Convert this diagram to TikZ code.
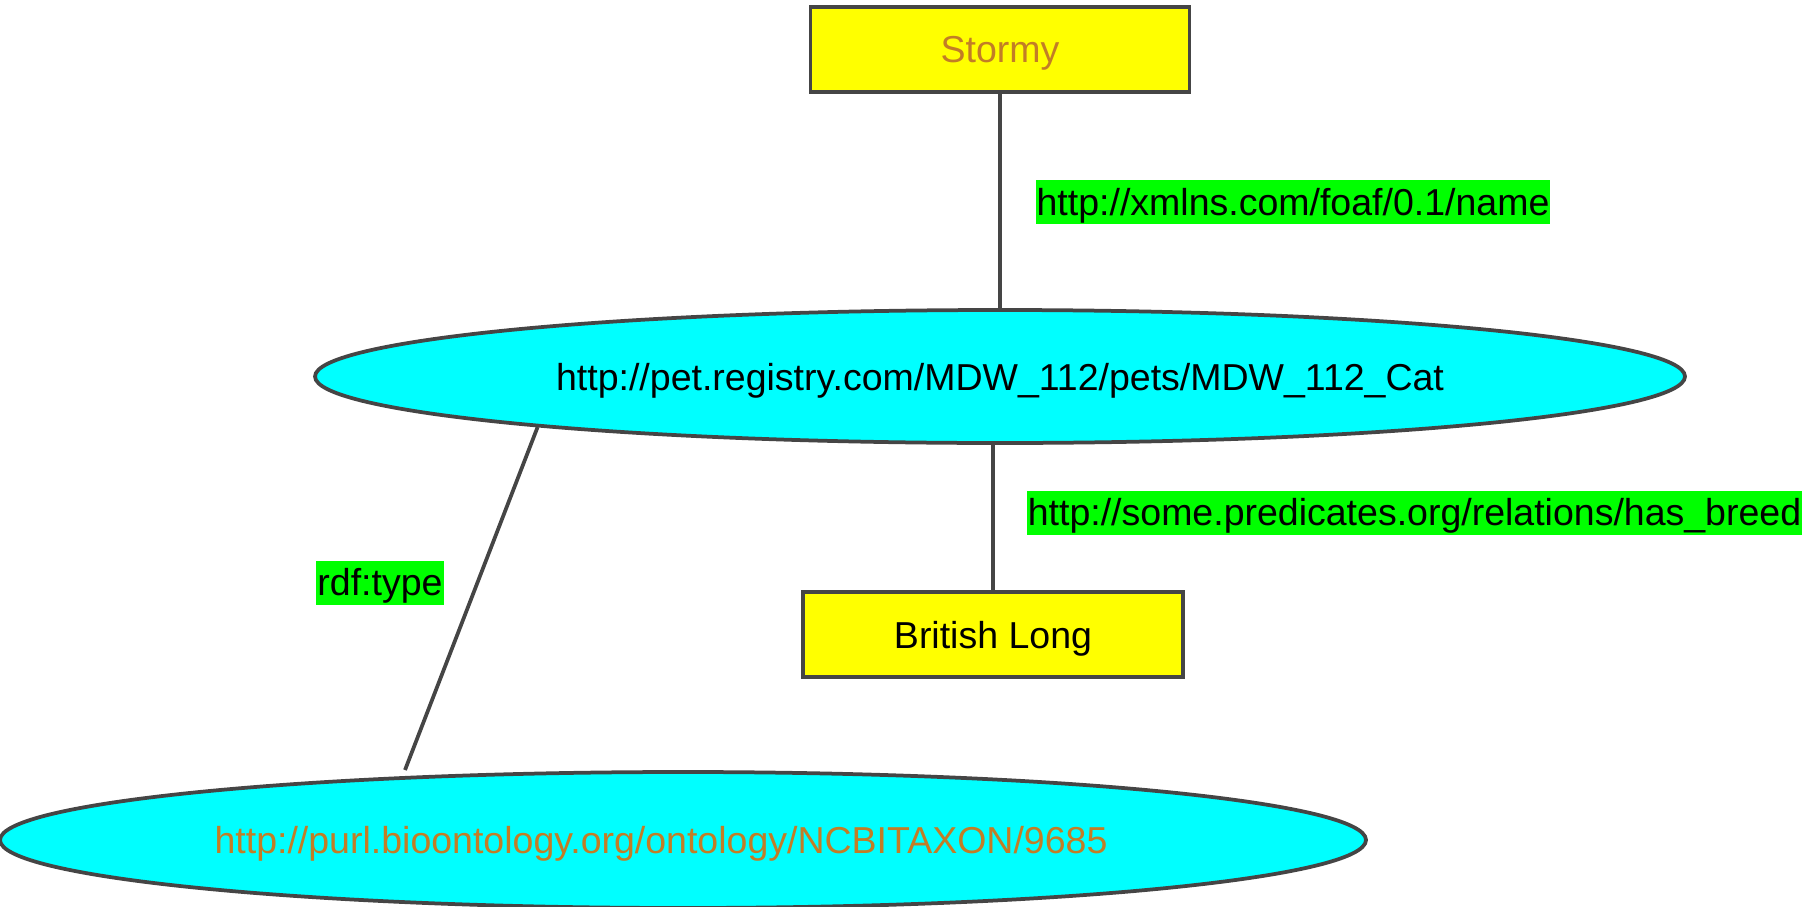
\documentclass[tikz,border=0pt]{standalone}
\usepackage{fontspec}
\setmainfont{Liberation Sans}
\usetikzlibrary{shapes.geometric,calc}

\newlength{\du}
\setlength{\du}{15\unitlength}

\definecolor{edgegrey}{rgb}{0.270000, 0.270000, 0.270000}
\definecolor{literalfill}{rgb}{1.000000, 1.000000, 0.000000}
\definecolor{resourcefill}{rgb}{0.000000, 1.000000, 1.000000}
\definecolor{predicatefill}{rgb}{0.000000, 1.000000, 0.000000}
\definecolor{plaintext}{rgb}{0.760000, 0.490000, 0.150000}

\tikzset{
  tripletext/.style={font=\fontsize{37.5}{45}\selectfont},
  literal/.style={tripletext, draw=edgegrey, fill=literalfill, line width=0.250000\du,
    inner sep=0pt, minimum height=5.666667\du, text height=27pt, text depth=0pt},
  resource/.style={tripletext, ellipse, draw=edgegrey, fill=resourcefill,
    line width=0.250000\du, inner sep=0pt, text height=27pt, text depth=0pt},
  predicate/.style={tripletext, fill=predicatefill, inner xsep=1pt, inner ysep=8pt,
    text height=27pt, text depth=1pt},
  edge/.style={draw=edgegrey, line width=0.250000\du}
}

\begin{document}
\begin{tikzpicture}
\pgftransformxscale{1.000000}
\pgftransformyscale{-1.000000}
\useasboundingbox (0\du,0\du) rectangle (121.200000\du,60.466667\du);
% subject and object nodes
\node[literal, minimum width=25.266667\du, text=plaintext] (stormy) at (66.666667\du,3.300000\du){Stormy};
\node[resource, minimum width=91.333333\du, minimum height=8.866667\du] (pet) at (66.666667\du,25.100000\du){http://pet.registry.com/MDW\_112/pets/MDW\_112\_Cat};
\node[literal, minimum width=25.333333\du] (breed) at (66.200000\du,42.300000\du){British Long};
\node[resource, minimum width=91.066667\du, minimum height=9.066667\du, text=plaintext] (taxon) at (45.533333\du,56.000000\du){http://purl.bioontology.org/ontology/NCBITAXON/9685\hspace*{44pt}};
\coordinate (typeend) at (27.000000\du,51.333333\du);
% edges
\draw[edge] (stormy.south) -- (pet.north);
\draw[edge] (pet.south -| breed.north) -- (breed.north);
\draw[edge] ($(pet.186)!0.25!(pet.187)$) -- (typeend);
% predicate labels
\node[predicate] (namelabel) at (86.200000\du,13.466667\du){http://xmlns.com/foaf/0.1/name};
\node[predicate] (breedlabel) at (94.300000\du,34.166667\du){http://some.predicates.org/relations/has\_breed};
\node[predicate] (typelabel) at (25.333333\du,38.833333\du){rdf:type};
\end{tikzpicture}
\end{document}
